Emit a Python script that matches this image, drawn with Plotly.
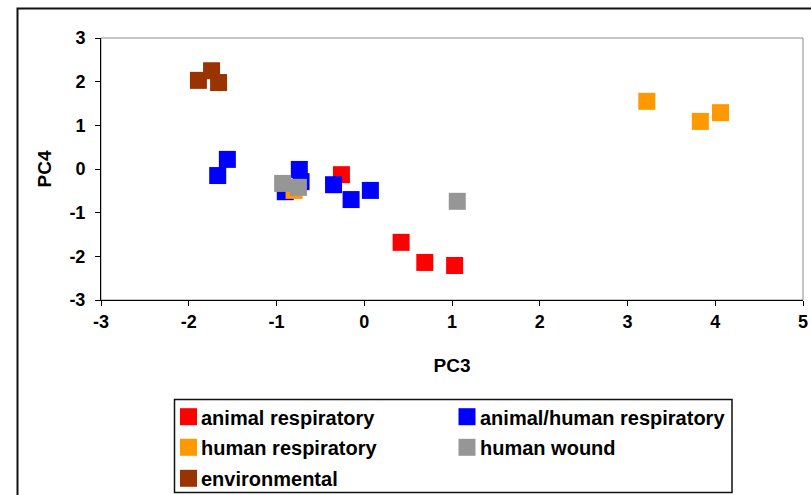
import plotly.graph_objects as go

# ---- data ----
series_names = ["animal respiratory", "animal/human respiratory", "human respiratory",
                "human wound", "environmental"]
series_colors = ["#FF0000", "#0000FF", "#FF9900", "#969696", "#993300"]

animal_resp_x = [-0.26, 0.42, 0.69, 1.03]
animal_resp_y = [-0.13, -1.68, -2.14, -2.21]

animal_human_resp_x = [-1.56, -1.67, -0.74, -0.72, -0.90, -0.35, -0.15, 0.07]
animal_human_resp_y = [0.22, -0.15, -0.01, -0.29, -0.52, -0.36, -0.70, -0.49]

human_resp_x = [-0.80, 3.22, 3.83, 4.06]
human_resp_y = [-0.49, 1.55, 1.09, 1.29]

human_wound_x = [-0.93, -0.75, 1.06]
human_wound_y = [-0.33, -0.42, -0.74]

environmental_x = [-1.89, -1.74, -1.66]
environmental_y = [2.03, 2.25, 1.98]

xs = [animal_resp_x, animal_human_resp_x, human_resp_x, human_wound_x, environmental_x]
ys = [animal_resp_y, animal_human_resp_y, human_resp_y, human_wound_y, environmental_y]

x_ticks = [-3, -2, -1, 0, 1, 2, 3, 4, 5]
y_ticks = [-3, -2, -1, 0, 1, 2, 3]

# ---- layout geometry (pixels) ----
W, H = 811, 495
L, R, T, B = 101, 803, 38, 300
pw, ph = R - L, B - T

def px(x):
    return (x - L) / pw

def py(y):
    return (B - y) / ph

FONT = "Liberation Sans, Arial, sans-serif"

fig = go.Figure()
for name, color, x, y in zip(series_names, series_colors, xs, ys):
    fig.add_trace(go.Scatter(
        x=x, y=y, mode="markers", name=name, showlegend=False,
        marker=dict(symbol="square", size=17, color=color, line=dict(width=0)),
    ))

shapes = []
# outer chart border
shapes.append(dict(type="rect", xref="paper", yref="paper",
                   x0=px(17.5), x1=px(840), y0=py(8.5), y1=py(530),
                   line=dict(color="#111111", width=2), fillcolor="rgba(0,0,0,0)",
                   layer="below"))
# plot area border (gray)
shapes.append(dict(type="rect", xref="paper", yref="paper", x0=0, x1=1, y0=0, y1=1,
                   line=dict(color="#8c8c8c", width=1), fillcolor="rgba(0,0,0,0)",
                   layer="below"))
# legend box
shapes.append(dict(type="rect", xref="paper", yref="paper",
                   x0=px(174.5), x1=px(732), y0=py(399.5), y1=py(492.5),
                   line=dict(color="#111111", width=1.5), fillcolor="white",
                   layer="below"))

annotations = []
legend_cols = [188.5, 467]
legend_text_x = [199, 477.5]
legend_rows = [416.7, 447.3, 478.3]
for i, (name, color) in enumerate(zip(series_names, series_colors)):
    r, c = divmod(i, 2)
    cx, cy = legend_cols[c], legend_rows[r]
    shapes.append(dict(type="rect", xref="paper", yref="paper",
                       x0=px(cx - 8.5), x1=px(cx + 8.5), y0=py(cy + 8.5), y1=py(cy - 8.5),
                       line=dict(width=0), fillcolor=color, layer="above"))
    annotations.append(dict(xref="paper", yref="paper", x=px(legend_text_x[c]), y=py(cy + 1),
                            text="<b>%s</b>" % name, showarrow=False,
                            xanchor="left", yanchor="middle",
                            font=dict(family=FONT, size=20, color="black")))

fig.update_layout(
    width=W, height=H,
    margin=dict(l=L, r=W - R, t=T, b=H - B, pad=0, autoexpand=False),
    paper_bgcolor="white", plot_bgcolor="white",
    showlegend=False,
    shapes=shapes, annotations=annotations,
    font=dict(family=FONT, color="black"),
)
fig.update_xaxes(
    range=[-3, 5], tickvals=x_ticks, ticktext=["<b>%d</b>" % v for v in x_ticks],
    showgrid=False, zeroline=False, showline=True, linecolor="black", linewidth=1,
    ticks="outside", ticklen=5, tickcolor="black", tickwidth=1, automargin=False,
    tickfont=dict(family=FONT, size=18, color="black"),
    title=dict(text="<b>PC3</b>", font=dict(family=FONT, size=19, color="black"), standoff=28),
)
fig.update_yaxes(
    range=[-3, 3], tickvals=y_ticks, ticktext=["<b>%d</b>" % v for v in y_ticks],
    showgrid=False, zeroline=False, showline=True, linecolor="black", linewidth=1,
    ticks="outside", ticklen=5, tickcolor="black", tickwidth=1, automargin=False,
    tickfont=dict(family=FONT, size=18, color="black"),
    ticklabelstandoff=6,
    title=dict(text="<b>PC4</b>", font=dict(family=FONT, size=19, color="black"), standoff=12),
)

fig.write_html("out.html")
